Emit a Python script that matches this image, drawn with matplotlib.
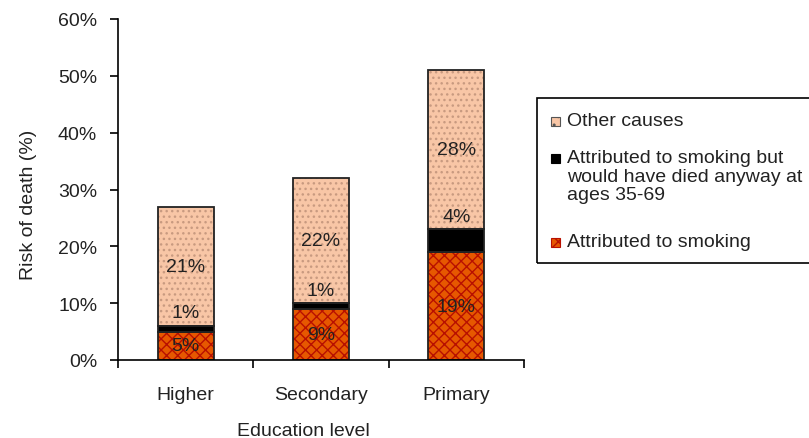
import matplotlib.pyplot as plt
import numpy as np
from matplotlib.patches import Rectangle

plt.rcParams['font.family'] = ['Liberation Sans', 'DejaVu Sans']
plt.rcParams['hatch.linewidth'] = 1.0

levels = ['Higher', 'Secondary', 'Primary']
smoking = [5, 9, 19]
smoking_anyway = [1, 1, 4]
other = [21, 22, 28]
yticks = [0, 10, 20, 30, 40, 50, 60]

legend_labels = [['Other causes'],
                 ['Attributed to smoking but', 'would have died anyway at', 'ages 35-69'],
                 ['Attributed to smoking']]

W, H = 809, 439
fig = plt.figure(figsize=(W / 100, H / 100), dpi=100)
ax = fig.add_axes([118 / W, 78 / H, 406 / W, 341 / H])

peach, peach_dot = '#f8c6a6', '#c89a80'
orange, orange_line = '#e65800', '#b81000'

x = np.arange(len(levels)) + 0.5
w = 0.415
s = np.array(smoking)
a = np.array(smoking_anyway)
o = np.array(other)

# hatched fills first, outlines drawn over them
ax.bar(x, s, w, color=orange, edgecolor=orange_line, hatch='xxx', linewidth=0)
ax.bar(x, a, w, bottom=s, color='black', linewidth=0)
ax.bar(x, o, w, bottom=s + a, color=peach, edgecolor=peach_dot, hatch='...', linewidth=0)
for bottom, h in [(0, s), (s, a), (s + a, o)]:
    ax.bar(x, h, w, bottom=bottom, fill=False, edgecolor='#222222', linewidth=1.3)

fs = 14
tc = '#222222'
for i in range(len(levels)):
    ax.text(x[i], s[i] / 2, f'{smoking[i]}%', ha='center', va='center', fontsize=fs, color=tc)
    ax.text(x[i], s[i] + a[i] + 2.3, f'{smoking_anyway[i]}%', ha='center', va='center', fontsize=fs, color=tc)
    ax.text(x[i], s[i] + a[i] + o[i] / 2, f'{other[i]}%', ha='center', va='center', fontsize=fs, color=tc)

ax.set_xlim(0, 3)
ax.set_ylim(0, 60)
ax.set_yticks(yticks)
ax.set_yticklabels([f'{t}%' for t in yticks], fontsize=fs, color=tc)
ax.set_xticks([0, 1, 2, 3])
ax.set_xticklabels([])
ax.set_xticks(x, minor=True)
ax.set_xticklabels(levels, minor=True, fontsize=fs, color=tc)
ax.tick_params(axis='x', which='minor', length=0, pad=19)
ax.tick_params(axis='x', which='major', length=6, direction='out', width=1.2)
ax.tick_params(axis='y', length=6, width=1.2, direction='out', pad=9)
for sp in ['top', 'right']:
    ax.spines[sp].set_visible(False)
for sp in ['left', 'bottom']:
    ax.spines[sp].set_linewidth(1.2)
ax.set_xlabel('Education level', fontsize=fs, color=tc)
ax.xaxis.set_label_coords(0.456, -0.181)
ax.set_ylabel('Risk of death (%)', fontsize=fs, color=tc)
ax.yaxis.set_label_coords(-0.199, 0.457)

# legend box laid out in pixel positions (runs off the right edge)
def fx(px):
    return px / W

def fy(py):
    return 1 - py / H

fig.patches.append(Rectangle((fx(537), fy(264)), fx(815) - fx(537), (264 - 99) / H,
                             transform=fig.transFigure, fill=False, edgecolor='black', linewidth=1.2))
entry_y = [122, 159, 243]
swatches = [dict(facecolor=peach, edgecolor='#555555', hatch='..'),
            dict(facecolor='black', edgecolor='black'),
            dict(facecolor=orange, edgecolor=orange_line, hatch='xx')]
for lines, y0, sw in zip(legend_labels, entry_y, swatches):
    fig.patches.append(Rectangle((fx(551), fy(y0 + 4.5)), 9 / W, 9 / H,
                                 transform=fig.transFigure, linewidth=0.8, **sw))
    for k, line in enumerate(lines):
        fig.text(fx(567), fy(y0 + 18.5 * k), line, fontsize=fs, color=tc, ha='left', va='center')

fig.savefig('out.png', dpi=100)
